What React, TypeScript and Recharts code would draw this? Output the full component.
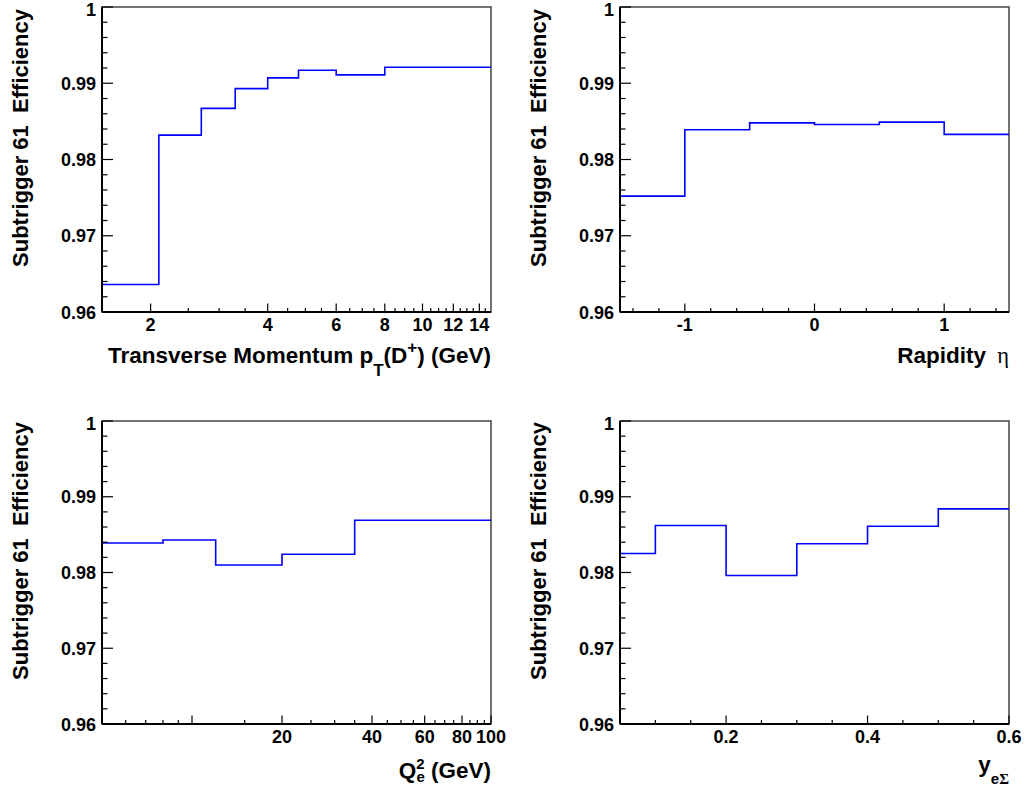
import React from 'react';
import { LineChart, Line, XAxis, YAxis, ReferenceArea } from 'recharts';

const FONT = '"Liberation Sans", Arial, Helvetica, sans-serif';
const SERIF = '"Liberation Serif", "DejaVu Serif", serif';

// ---------- Data ----------
// Panel 1: transverse momentum pT(D+)
const ptEdges = [1.5, 2.1, 2.7, 3.3, 4, 4.8, 6, 8, 15];
const ptEff = [0.9636, 0.9832, 0.9867, 0.9893, 0.9907, 0.9917, 0.9911, 0.9921];
const ptMajorTicks = [2, 4, 6, 8, 10, 12, 14];
const ptMinorTicks = [2.5, 3, 3.5, 4.5, 5, 5.5, 6.5, 7, 7.5, 8.5, 9, 9.5, 10.5, 11, 11.5, 12.5, 13, 13.5, 14.5];
const ptTickLabels = [2, 4, 6, 8, 10, 12, 14];

// Panel 2: rapidity eta
const etaEdges = [-1.5, -1, -0.5, 0, 0.5, 1, 1.5];
const etaEff = [0.9752, 0.9839, 0.9848, 0.9846, 0.9849, 0.9833];
const etaMajorTicks = [-1, 0, 1];
const etaMinorTicks = [-1.4, -1.2, -0.8, -0.6, -0.4, -0.2, 0.2, 0.4, 0.6, 0.8, 1.2, 1.4];
const etaTickLabels = [-1, 0, 1];

// Panel 3: Q^2
const q2Edges = [5, 8, 12, 20, 35, 100];
const q2Eff = [0.9839, 0.9843, 0.981, 0.9824, 0.9869];
const q2MajorTicks = [10, 20, 40, 60, 80, 100];
const q2MinorTicks = [6, 7, 8, 9, 15, 25, 30, 35, 45, 50, 55, 65, 70, 75, 85, 90, 95];
const q2TickLabels = [20, 40, 60, 80, 100];

// Panel 4: y_eSigma
const yEdges = [0.05, 0.1, 0.2, 0.3, 0.4, 0.5, 0.6];
const yEff = [0.9825, 0.9862, 0.9796, 0.9838, 0.9861, 0.9884];
const yMajorTicks = [0.2, 0.4, 0.6];
const yMinorTicks = [0.1, 0.15, 0.25, 0.3, 0.35, 0.45, 0.5, 0.55];
const yTickLabels = [0.2, 0.4, 0.6];

// Efficiency axis
const effDomain = [0.96, 1];
const effMajorTicks = [0.96, 0.97, 0.98, 0.99, 1];
const effMinorTicks = [0.962, 0.964, 0.966, 0.968, 0.972, 0.974, 0.976, 0.978, 0.982, 0.984, 0.986, 0.988, 0.992, 0.994, 0.996, 0.998];
const effTickLabels = [0.96, 0.97, 0.98, 0.99, 1];

const yTitle = 'Subtrigger 61\u00a0 Efficiency';

// histogram as step line (closed down to the axis floor at the left end)
function stepData(edges: number[], vals: number[], floor: number) {
  const pts: { x: number; y: number }[] = [{ x: edges[0], y: floor }];
  vals.forEach((v, i) => pts.push({ x: edges[i], y: v }));
  pts.push({ x: edges[edges.length - 1], y: vals[vals.length - 1] });
  return pts;
}

type PanelProps = {
  ox: number; oy: number; W: number; H: number;
  left: number; right: number; top: number; bottom: number;
  edges: number[]; vals: number[]; log: boolean;
  majors: number[]; minors: number[]; labels: number[];
  titleTop: number;
  xTitle: (R: number, B: number) => React.ReactNode;
};

function Panel(p: PanelProps) {
  const data = stepData(p.edges, p.vals, effDomain[0]);
  const L = p.left - p.ox;
  const R = p.right - p.ox;
  const T = p.top - p.oy;
  const B = p.bottom - p.oy;
  const XH = 40;
  const margin = { top: T, right: p.W - R, left: 0, bottom: p.H - B - XH };
  const xTicks = [...p.majors, ...p.minors].sort((a, b) => a - b);
  const yTicks = [...effMajorTicks, ...effMinorTicks].sort((a, b) => a - b);

  const renderXTick = (props: any) => {
    const v = props.payload.value;
    const x = props.x;
    const major = p.majors.includes(v);
    const len = major ? 8.5 : 4;
    return (
      <g>
        <line x1={x} x2={x} y1={B} y2={B - len} stroke="#000" strokeWidth={1.2} />
        {p.labels.includes(v) && (
          <text x={x} y={B + 19} textAnchor="middle" fontSize={18} fontWeight="bold" fontFamily={FONT} fill="#000">
            {String(v)}
          </text>
        )}
      </g>
    );
  };

  const renderYTick = (props: any) => {
    const v = props.payload.value;
    const y = props.y;
    const major = effMajorTicks.includes(v);
    const len = major ? 11 : 5.5;
    const shift = v === effDomain[1] ? 2 : 0;
    return (
      <g>
        <line x1={L} x2={L + len} y1={y} y2={y} stroke="#000" strokeWidth={1.2} />
        {effTickLabels.includes(v) && (
          <text x={L - 6} y={y + 6.5 + shift} textAnchor="end" fontSize={18} fontWeight="bold" fontFamily={FONT} fill="#000">
            {String(v)}
          </text>
        )}
      </g>
    );
  };

  const yx = L - 74;
  const yy = T + p.titleTop;

  return (
    <div style={{ position: 'absolute', left: p.ox, top: p.oy, width: p.W, height: p.H }}>
      <LineChart width={p.W} height={p.H} data={data} margin={margin}>
        <XAxis
          dataKey="x"
          type="number"
          scale={p.log ? 'log' : 'linear'}
          domain={[p.edges[0], p.edges[p.edges.length - 1]]}
          allowDataOverflow
          ticks={xTicks}
          interval={0}
          tickLine={false}
          tickSize={0}
          tickMargin={0}
          height={XH}
          axisLine={{ stroke: '#000', strokeWidth: 2 }}
          tick={renderXTick}
          label={() => <g>{p.xTitle(R, B)}</g>}
        />
        <YAxis
          type="number"
          domain={effDomain}
          allowDataOverflow
          ticks={yTicks}
          interval={0}
          tickLine={false}
          tickSize={0}
          tickMargin={0}
          width={L}
          axisLine={{ stroke: '#000', strokeWidth: 2 }}
          tick={renderYTick}
          label={() => (
            <text
              x={yx}
              y={yy}
              transform={`rotate(-90, ${yx}, ${yy})`}
              textAnchor="end"
              fontSize={22}
              fontWeight="bold"
              fontFamily={FONT}
              fill="#000"
              style={{ whiteSpace: 'pre' }}
            >
              {yTitle}
            </text>
          )}
        />
        <Line
          type="stepAfter"
          dataKey="y"
          stroke="#0000ff"
          strokeWidth={1.6}
          dot={false}
          activeDot={false}
          isAnimationActive={false}
        />
        <ReferenceArea
          x1={p.edges[0]}
          x2={p.edges[p.edges.length - 1]}
          y1={effDomain[0]}
          y2={effDomain[1]}
          fill="none"
          fillOpacity={0}
          stroke="#444"
          strokeWidth={1.5}
          ifOverflow="extendDomain"
        />
      </LineChart>
    </div>
  );
}

const titleStyle = { fontSize: 22.5, fontWeight: 'bold' as const, fontFamily: FONT, fill: '#000' };

export default function App() {
  return (
    <div style={{ position: 'absolute', left: 0, top: 0, width: 1029, height: 793, background: '#fff', overflow: 'hidden' }}>
      <Panel
        ox={0} oy={0} W={514} H={396}
        left={102} right={491} top={7} bottom={312}
        edges={ptEdges} vals={ptEff} log
        majors={ptMajorTicks} minors={ptMinorTicks} labels={ptTickLabels}
        titleTop={2}
        xTitle={(R, B) => (
          <text x={R} y={B + 51} textAnchor="end" {...titleStyle}>
            Transverse Momentum p
            <tspan fontSize={17} dy={12.5}>T</tspan>
            <tspan dy={-12.5}>(D</tspan>
            <tspan fontSize={17} dy={-10.5}>+</tspan>
            <tspan dy={10.5}>) (GeV)</tspan>
          </text>
        )}
      />
      <Panel
        ox={514} oy={0} W={515} H={396}
        left={620} right={1009} top={7} bottom={312}
        edges={etaEdges} vals={etaEff} log={false}
        majors={etaMajorTicks} minors={etaMinorTicks} labels={etaTickLabels}
        titleTop={2}
        xTitle={(R, B) => (
          <text x={R} y={B + 51} textAnchor="end" {...titleStyle} style={{ whiteSpace: 'pre' }}>
            Rapidity
            <tspan fontFamily={SERIF} fontWeight="normal">{'\u00a0 η'}</tspan>
          </text>
        )}
      />
      <Panel
        ox={0} oy={396} W={514} H={397}
        left={102} right={491} top={421} bottom={724}
        edges={q2Edges} vals={q2Eff} log
        majors={q2MajorTicks} minors={q2MinorTicks} labels={q2TickLabels}
        titleTop={1}
        xTitle={(R, B) => (
          <text x={R} y={B + 54} textAnchor="end" {...titleStyle} style={{ whiteSpace: 'pre' }}>
            Q
            <tspan fontSize={15} dy={-9}>2</tspan>
            <tspan fontSize={15} dx={-8.3} dy={13}>e</tspan>
            <tspan dy={-4}>{' (GeV)'}</tspan>
          </text>
        )}
      />
      <Panel
        ox={514} oy={396} W={515} H={397}
        left={620} right={1009} top={421} bottom={724}
        edges={yEdges} vals={yEff} log={false}
        majors={yMajorTicks} minors={yMinorTicks} labels={yTickLabels}
        titleTop={1}
        xTitle={(R, B) => (
          <text x={R} y={B + 47.5} textAnchor="end" {...titleStyle}>
            y
            <tspan fontSize={15} dy={12}>e</tspan>
            <tspan fontSize={15} fontFamily={SERIF}>Σ</tspan>
          </text>
        )}
      />
    </div>
  );
}
